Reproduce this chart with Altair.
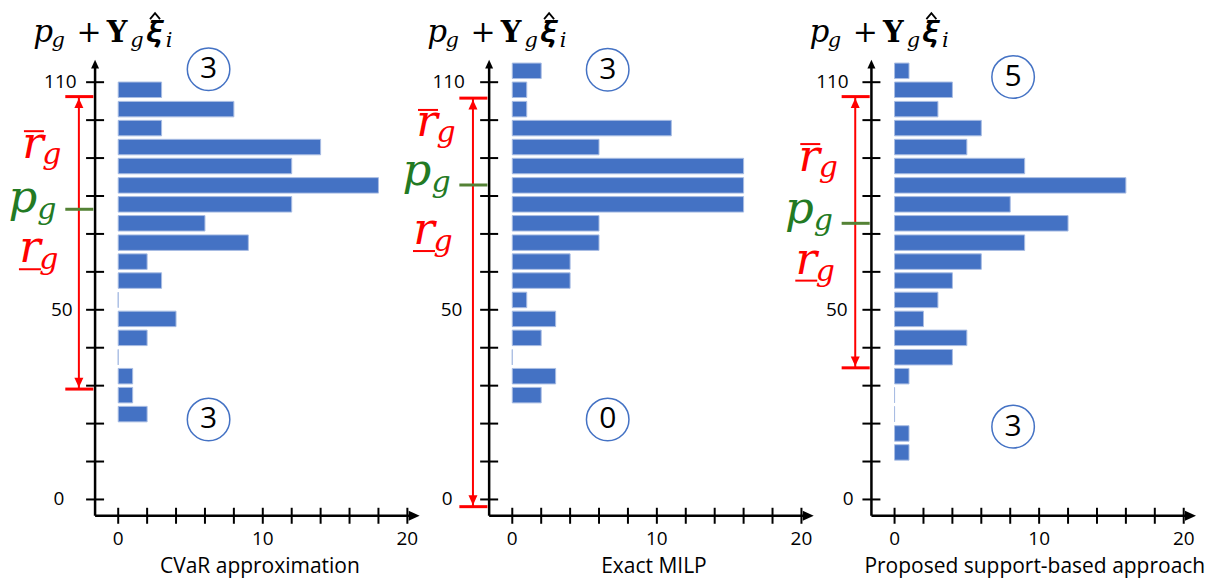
import altair as alt
import pandas as pd

# ---------------- data ----------------
bin_centers = [113.0, 108.0, 102.9, 97.9, 92.9, 87.9, 82.8, 77.8, 72.8, 67.7,
               62.7, 57.7, 52.6, 47.6, 42.6, 37.5, 32.5, 27.5, 22.5, 17.4, 12.4]
cvar_counts = [None, 3, 8, 3, 14, 12, 18, 12, 6, 9, 2, 3, 0, 4, 2, 0, 1, 1, 2, None, None]
milp_counts = [2, 1, 1, 11, 6, 16, 16, 16, 6, 6, 4, 4, 1, 3, 2, 0, 3, 2, None, None, None]
support_counts = [1, 4, 3, 6, 5, 9, 16, 8, 12, 9, 6, 4, 3, 2, 5, 4, 1, 0, 0, 1, 1]

panel_titles = ["CVaR approximation", "Exact MILP", "Proposed support-based approach"]
top_circle_numbers = ["3", "3", "5"]
bottom_circle_numbers = ["3", "0", "3"]
r_upper = [106.2, 105.8, 106.2]
r_lower = [29.1, -1.9, 34.7]
p_nominal = [76.5, 82.9, 72.8]

y_tick_values = [0, 10, 20, 30, 40, 50, 60, 70, 80, 90, 100, 110]
y_tick_labels = [0, 50, 110]
x_tick_values = [0, 2, 4, 6, 8, 10, 12, 14, 16, 18, 20]
x_tick_labels = [0, 10, 20]

# ---------------- layout / style ----------------
KX, KY = 14.47, 3.864
H = 572
YMAX = 128.18
YMIN = YMAX - H / KY
PANEL_LEFT = [8, 403, 787]
PANEL_W = [395, 384, 420]
ZERO_PX = [117.3, 511.7, 894.3]
AXIS_X = -1.6
XAXIS_Y = -4.3
RED_X = -2.72
CAP_L, CAP_R = -3.66, -1.72
TITLE_Y = 120.6
circle_top_pos = [(6.25, 113.4), (6.6, 113.3), (8.2, 111.4)]
circle_bottom_pos = [(6.25, 21.1), (6.6, 21.1), (8.2, 19.2)]
rbar_base = [90.1, 95.7, 86.7]
p_base = [75.9, 82.8, 72.9]
rlow_base = [62.5, 67.3, 59.5]
xtitle_x = [9.8, 9.8, 9.7]
ylabel_x = [[-4.1, -3.9, -4.0], [-4.5, -4.2, -4.4], [-3.2, -4.0, -4.3]]  # for 0, 50, 110

BLUE = "#4472C4"
RED = "#FF0000"
GREEN_TXT = "#237A23"
GREEN_LINE = "#548235"
MATH = "DejaVu Serif"
SANS = "Open Sans"

# mathematical italic letters
M_P = "\U0001D45D"
M_R = "\U0001D45F"
M_G = "\U0001D454"
M_I = "\U0001D456"
M_XI = "\U0001D743"

UP = "M0,0L-1,2.2L1,2.2Z"
DOWN = "M0,0L-1,-2.2L1,-2.2Z"
RIGHT = "M0,0L-2.2,-1L-2.2,1Z"
HAT = "M-1,0.6L0,-0.6L1,0.6"


def panel(i, counts):
    xa = -(ZERO_PX[i] - PANEL_LEFT[i]) / KX
    xb = xa + PANEL_W[i] / KX
    xs = alt.Scale(domain=[xa, xb], nice=False, zero=False)
    ys = alt.Scale(domain=[YMIN, YMAX], nice=False, zero=False)

    def X(f):
        return alt.X(f, type="quantitative", scale=xs, axis=None)

    def Y(f):
        return alt.Y(f, type="quantitative", scale=ys, axis=None)

    layers = []

    def text(x, y, t, dx=0, dy=0, size=18, color="black", font=SANS,
             style="normal", weight="normal", align="center", baseline="middle"):
        df = pd.DataFrame({"x": [x], "y": [y], "t": [t]})
        layers.append(
            alt.Chart(df).mark_text(dx=dx, dy=dy, fontSize=size, color=color, font=font,
                                    fontStyle=style, fontWeight=weight, align=align,
                                    baseline=baseline)
            .encode(x=X("x"), y=Y("y"), text="t:N"))

    def rule(x, y, x2=None, y2=None, color="black", width=2.0):
        d = {"x": [x], "y": [y]}
        enc = {"x": X("x"), "y": Y("y")}
        if x2 is not None:
            d["x2"] = [x2]
            enc["x2"] = alt.X2("x2:Q")
        if y2 is not None:
            d["y2"] = [y2]
            enc["y2"] = alt.Y2("y2:Q")
        layers.append(alt.Chart(pd.DataFrame(d)).mark_rule(color=color, strokeWidth=width).encode(**enc))

    def point(x, y, shape, size, color, filled=True, sw=0.0):
        layers.append(
            alt.Chart(pd.DataFrame({"x": [x], "y": [y]}))
            .mark_point(shape=shape, size=size, filled=filled, color=color, opacity=1, strokeWidth=sw)
            .encode(x=X("x"), y=Y("y")))

    # bars
    rows = [(c, n) for c, n in zip(bin_centers, counts) if n is not None]
    bdf = pd.DataFrame({"center": [r[0] for r in rows], "count": [r[1] for r in rows], "base": 0})
    layers.append(
        alt.Chart(bdf).mark_bar(orient="horizontal", size=15.5, color=BLUE,
                                stroke="#A9BDE3", strokeWidth=1)
        .encode(x=X("base"), x2=alt.X2("count:Q"), y=Y("center")))

    # axes
    rule(AXIS_X, XAXIS_Y, y2=114.3, width=2.5)
    point(AXIS_X, 115.9, UP, 64, "black")
    rule(AXIS_X, XAXIS_Y, x2=20.2, width=2.5)
    point(20.85, XAXIS_Y, RIGHT, 100, "black")
    layers.append(
        alt.Chart(pd.DataFrame({"x": AXIS_X, "y": y_tick_values}))
        .mark_tick(orient="horizontal", size=18, thickness=2, color="black", opacity=1)
        .encode(x=X("x"), y=Y("y")))
    layers.append(
        alt.Chart(pd.DataFrame({"x": x_tick_values, "y": XAXIS_Y}))
        .mark_tick(orient="vertical", size=16, thickness=2, color="black", opacity=1)
        .encode(x=X("x"), y=Y("y")))
    for lx, v in zip(ylabel_x[i], y_tick_labels):
        text(lx, v, str(v), size=19)
    for v in x_tick_labels:
        text(v, -10.4, str(v), size=19)
    text(xtitle_x[i], -17.9, panel_titles[i], size=21)

    # axis title  p_g + Y_g xi_i  (glyph ink centres relative to the axis line)
    text(AXIS_X, TITLE_Y, M_P, dx=-52, size=31, font=MATH, baseline="alphabetic")
    text(AXIS_X, TITLE_Y, M_G, dx=-37, dy=5, size=21, font=MATH, baseline="alphabetic")
    text(AXIS_X, TITLE_Y, "+", dx=-6, size=30, font=MATH, baseline="alphabetic")
    text(AXIS_X, TITLE_Y, "Y", dx=22, size=29, font=MATH, weight="bold", baseline="alphabetic")
    text(AXIS_X, TITLE_Y, M_G, dx=42, dy=5, size=21, font=MATH, baseline="alphabetic")
    text(AXIS_X, TITLE_Y, M_XI, dx=59, size=30, font=MATH, baseline="alphabetic")
    text(AXIS_X, TITLE_Y, M_I, dx=74, dy=5, size=21, font=MATH, baseline="alphabetic")
    point(AXIS_X + 60 / KX, 127.4, HAT, 100, "black", filled=False, sw=1.8)

    # red range arrow
    rule(RED_X, r_lower[i], y2=r_upper[i], color=RED, width=2)
    rule(CAP_L, r_upper[i], x2=CAP_R, color=RED, width=3)
    rule(CAP_L, r_lower[i], x2=CAP_R, color=RED, width=3)
    point(RED_X, r_upper[i] - 0.4, UP, 81, RED)
    point(RED_X, r_lower[i] + 0.4, DOWN, 81, RED)
    # green nominal tick
    rule(CAP_L, p_nominal[i], x2=CAP_R, color=GREEN_LINE, width=3)

    # labels (ink centres relative to the red line)
    text(RED_X, rbar_base[i], M_R, dx=-46, size=45, color=RED, font=MATH, baseline="alphabetic")
    text(RED_X, rbar_base[i], M_G, dx=-27, dy=6, size=30, color=RED, font=MATH, baseline="alphabetic")
    rule(RED_X - 55 / KX, rbar_base[i] + 27 / KY, x2=RED_X - 35 / KX, color=RED, width=2)

    text(RED_X, p_base[i], M_P, dx=-56, size=45, color=GREEN_TXT, font=MATH, baseline="alphabetic")
    text(RED_X, p_base[i], M_G, dx=-32, dy=7, size=30, color=GREEN_TXT, font=MATH, baseline="alphabetic")

    text(RED_X, rlow_base[i], M_R, dx=-49, size=45, color=RED, font=MATH, baseline="alphabetic")
    text(RED_X, rlow_base[i], M_G, dx=-30, dy=7, size=30, color=RED, font=MATH, baseline="alphabetic")
    rule(RED_X - 60 / KX, rlow_base[i] - 7 / KY, x2=RED_X - 38 / KX, color=RED, width=2)

    # circled counts
    for (cx, cy), num in ((circle_top_pos[i], top_circle_numbers[i]),
                          (circle_bottom_pos[i], bottom_circle_numbers[i])):
        point(cx, cy, "circle", 1810, BLUE, filled=False, sw=1.5)
        text(cx, cy, num, size=30)

    return alt.layer(*layers).properties(width=PANEL_W[i], height=H)


chart = alt.hconcat(
    panel(0, cvar_counts),
    panel(1, milp_counts),
    panel(2, support_counts),
    spacing=0,
    bounds="flush",
    padding=0,
).configure_view(stroke=None)

chart.save("out.html", embed_options={"renderer": "svg", "actions": False})
